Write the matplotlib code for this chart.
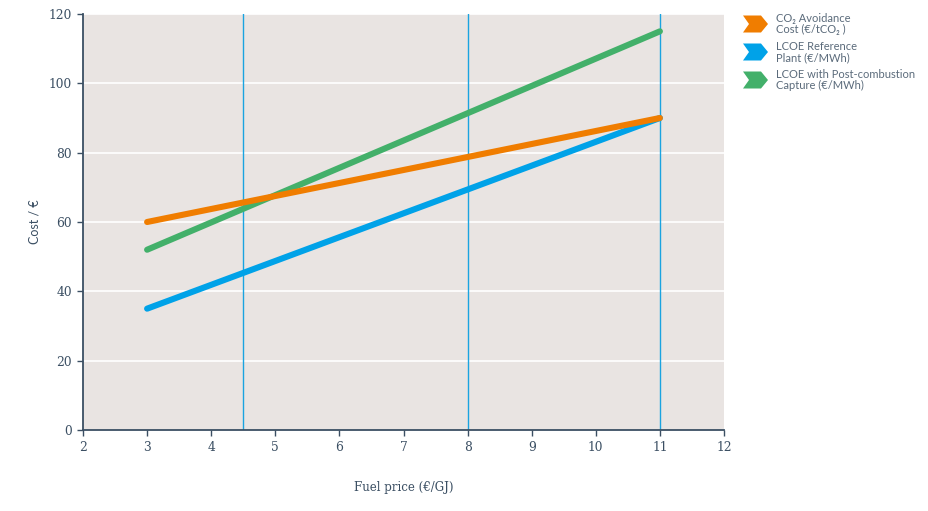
import matplotlib
matplotlib.use('Agg')
import matplotlib.pyplot as plt
from matplotlib.patches import Polygon

# Data
fuel_price = [3, 11]
co2_avoidance = [60, 90]
lcoe_reference = [35, 90]
lcoe_capture = [52, 115]
marker_prices = [4.5, 8, 11]

series_labels = ['CO\u2082 Avoidance\nCost (\u20ac/tCO\u2082 )',
                 'LCOE Reference\nPlant (\u20ac/MWh)',
                 'LCOE with Post-combustion\nCapture (\u20ac/MWh)']
series_colors = ['#f07d00', '#00a2e8', '#43b06a']

x_ticks = list(range(2, 13))
y_ticks = list(range(0, 121, 20))

axis_color = '#3b4f63'
bg_color = '#e9e4e2'

fig = plt.figure(figsize=(9.29, 5.11), dpi=100)
ax = fig.add_axes([83 / 929, 81 / 511, 641 / 929, 416 / 511])
ax.set_facecolor(bg_color)

for y in y_ticks[1:]:
    ax.axhline(y, color='white', lw=1.2, zorder=1)
for x in marker_prices:
    ax.axvline(x, color='#1aa3e0', lw=1.0, zorder=2)

lw = 4.4
ax.plot(fuel_price, lcoe_capture, color=series_colors[2], lw=lw, solid_capstyle='round', zorder=3)
ax.plot(fuel_price, lcoe_reference, color=series_colors[1], lw=lw, solid_capstyle='round', zorder=4)
ax.plot(fuel_price, co2_avoidance, color=series_colors[0], lw=lw, solid_capstyle='round', zorder=5)

ax.set_xlim(2, 12)
ax.set_ylim(0, 120)
ax.set_xticks(x_ticks)
ax.set_yticks(y_ticks)

for side in ['top', 'right']:
    ax.spines[side].set_visible(False)
for side in ['left', 'bottom']:
    ax.spines[side].set_color(axis_color)
    ax.spines[side].set_linewidth(1.3)

ax.tick_params(colors=axis_color, length=4, width=1.0, labelsize=8.8, pad=4)
for lab in ax.get_xticklabels() + ax.get_yticklabels():
    lab.set_family('DejaVu Serif')

ax.set_xlabel('Fuel price (\u20ac/GJ)', family='DejaVu Serif', fontsize=8.5,
              color=axis_color, labelpad=19)
ax.set_ylabel('Cost / \u20ac', family='Lato', fontsize=9, color=axis_color)
ax.yaxis.set_label_coords(-0.067, 0.5)

# Legend with chevron markers
row_y = [24, 52, 80]
for label, color, yc in zip(series_labels, series_colors, row_y):
    x0, h = 743, 8.5
    pts = [(x0, yc - h), (x0 + 18, yc - h), (x0 + 25, yc), (x0 + 18, yc + h),
           (x0, yc + h), (x0 + 6, yc)]
    pts = [(px / 929, 1 - py / 511) for px, py in pts]
    fig.add_artist(Polygon(pts, closed=True, transform=fig.transFigure,
                           facecolor=color, edgecolor='none'))
    fig.text(776 / 929, 1 - yc / 511, label, family='Lato', fontsize=8,
             color='#5b6b7b', va='center', ha='left', linespacing=1.05)

fig.savefig('out.png', dpi=100)
